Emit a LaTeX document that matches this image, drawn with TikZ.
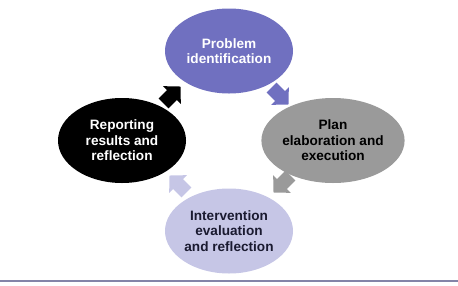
\documentclass[tikz,border=0pt]{standalone}
\usepackage{fontspec}
\setmainfont{Liberation Sans}
\usetikzlibrary{shapes.geometric}
\definecolor{cpurple}{HTML}{7070C0}
\definecolor{cgray}{HTML}{9A9A9A}
\definecolor{clight}{HTML}{C6C6E6}
\definecolor{cline}{HTML}{8484A8}
\definecolor{cnavy}{HTML}{1A1A30}
\begin{document}
\begin{tikzpicture}[x=1pt,y=-1pt,
  stage/.style={ellipse,minimum width=128pt,minimum height=85pt,inner sep=0pt,
    align=center,font=\fontsize{13.6pt}{15.5pt}\selectfont\bfseries},
  cyclearrow/.pic={\fill[pic actions] (-12,-7) -- (0,-7) -- (0,-12.5) -- (12,0) -- (0,12.5) -- (0,7) -- (-12,7) -- cycle;}
]
\useasboundingbox (0,0) rectangle (458,285);
\node[stage,fill=cpurple,text=white] (prob) at (229,51) {Problem\\identification};
\node[stage,fill=cgray,text=black] (plan) at (333,140.5) {Plan\\elaboration and\\execution};
\node[stage,fill=clight,text=cnavy] (interv) at (229,231) {Intervention\\evaluation\\and reflection};
\node[stage,fill=black,text=white] (report) at (122,140.5) {Reporting\\results and\\reflection};
\pic[fill=cpurple,rotate=-45] (a1) at (280,96) {cyclearrow};
\pic[fill=cgray,rotate=-135] (a2) at (282,184) {cyclearrow};
\pic[fill=clight,rotate=135] (a3) at (178,184) {cyclearrow};
\pic[fill=black,rotate=45] (a4) at (172,95) {cyclearrow};
\coordinate (lineL) at (0,281);
\coordinate (lineR) at (458,281);
\draw[cline,line width=1.5pt] (lineL) -- (lineR);
\end{tikzpicture}
\end{document}
